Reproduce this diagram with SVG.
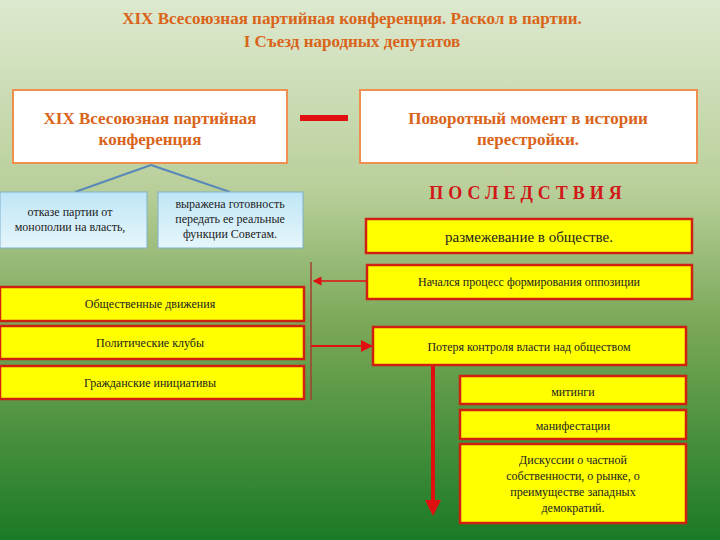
<svg xmlns="http://www.w3.org/2000/svg" width="720" height="540" viewBox="0 0 720 540">
<defs>
<linearGradient id="bg" x1="0" y1="0" x2="0" y2="1">
<stop offset="0" stop-color="#dde9cf"/>
<stop offset="0.35" stop-color="#b9cf9a"/>
<stop offset="0.6" stop-color="#7aa858"/>
<stop offset="1" stop-color="#1b7a25"/>
</linearGradient>
<linearGradient id="lb" x1="0" y1="0" x2="0" y2="1">
<stop offset="0" stop-color="#bfe6f6"/>
<stop offset="1" stop-color="#e6f6fc"/>
</linearGradient>
<marker id="ar" markerWidth="6" markerHeight="6" refX="5" refY="3" orient="auto" markerUnits="strokeWidth"><path d="M0,0 L6,3 L0,6 Z" fill="#e01010"/></marker>
<marker id="ab" markerWidth="4" markerHeight="4" refX="3" refY="2" orient="auto" markerUnits="strokeWidth"><path d="M0,0 L4,2 L0,4 Z" fill="#e01010"/></marker>
</defs>
<style>
.t{font-family:"Liberation Serif",serif;font-weight:bold;fill:#d9641a;text-anchor:middle;font-size:17px}
.wb{fill:#fff;stroke:#f09050;stroke-width:2}
.bb{fill:url(#lb);stroke:#7fb0cc;stroke-width:1}
.yb{fill:#ffff00;stroke:#d02010;stroke-width:2.5}
.s{font-family:"Liberation Serif",serif;fill:#222;text-anchor:middle;font-size:12px}
.s15{font-size:15px}
</style>
<rect width="720" height="540" fill="url(#bg)"/>
<text class="t" x="352" y="24">XIX Всесоюзная партийная конференция. Раскол в партии.</text>
<text class="t" x="352" y="47">I Съезд народных депутатов</text>
<g id="connectors" fill="none">
<path d="M151,165 L75,192 M151,165 L230,192" stroke="#5a88b8" stroke-width="2"/>
<rect x="300" y="115" width="48" height="6" fill="#e01010" stroke="none"/>
<path d="M311,262 V400" stroke="#a04030" stroke-width="1.5"/>
<path d="M367,281 H314" stroke="#e01010" stroke-width="1.5" marker-end="url(#ar)"/>
<path d="M311,346 H371" stroke="#e01010" stroke-width="2" marker-end="url(#ar)"/>
<path d="M433,366 V512" stroke="#e01010" stroke-width="4" marker-end="url(#ab)"/>
</g>
<g id="n1"><rect class="wb" x="13" y="90" width="274" height="73"/><text class="t" x="150" y="124">XIX Всесоюзная партийная</text><text class="t" x="150" y="145">конференция</text></g>
<g id="n2"><rect class="wb" x="360" y="90" width="337" height="73"/><text class="t" x="528" y="124">Поворотный момент в истории</text><text class="t" x="528" y="145">перестройки.</text></g>
<g id="n3"><rect class="bb" x="0" y="192" width="147" height="56"/><text class="s" x="70" y="216">отказе партии от</text><text class="s" x="70" y="231">монополии на власть,</text></g>
<g id="n4"><rect class="bb" x="158" y="192" width="145" height="56"/><text class="s" x="230" y="208">выражена готовность</text><text class="s" x="230" y="223">передать ее реальные</text><text class="s" x="230" y="238">функции Советам.</text></g>
<g id="n5"><text x="528" y="199" font-family="Liberation Serif,serif" font-weight="bold" font-size="18" fill="#d01818" text-anchor="middle" letter-spacing="5">ПОСЛЕДСТВИЯ</text></g>
<g id="n6"><rect class="yb" x="366" y="219" width="326" height="34"/><text class="s s15" x="529" y="242">размежевание в обществе.</text></g>
<g id="n7"><rect class="yb" x="367" y="265" width="325" height="34"/><text class="s" x="529" y="286">Начался процесс формирования оппозиции</text></g>
<g id="n8"><rect class="yb" x="0" y="287" width="304" height="34"/><text class="s" x="150" y="308">Общественные движения</text></g>
<g id="n9"><rect class="yb" x="0" y="326" width="304" height="33"/><text class="s" x="150" y="347">Политические клубы</text></g>
<g id="n10"><rect class="yb" x="0" y="366" width="304" height="33"/><text class="s" x="150" y="387">Гражданские инициативы</text></g>
<g id="n11"><rect class="yb" x="373" y="327" width="313" height="38"/><text class="s" x="529" y="351">Потеря контроля  власти над обществом</text></g>
<g id="n12"><rect class="yb" x="460" y="376" width="226" height="28"/><text class="s" x="573" y="396">митинги</text></g>
<g id="n13"><rect class="yb" x="460" y="410" width="226" height="29"/><text class="s" x="573" y="430">манифестации</text></g>
<g id="n14"><rect class="yb" x="460" y="444" width="226" height="79"/><text class="s" x="573" y="464">Дискуссии о частной</text><text class="s" x="573" y="480">собственности, о рынке, о</text><text class="s" x="573" y="496">преимуществе западных</text><text class="s" x="573" y="512">демократий.</text></g>
</svg>
